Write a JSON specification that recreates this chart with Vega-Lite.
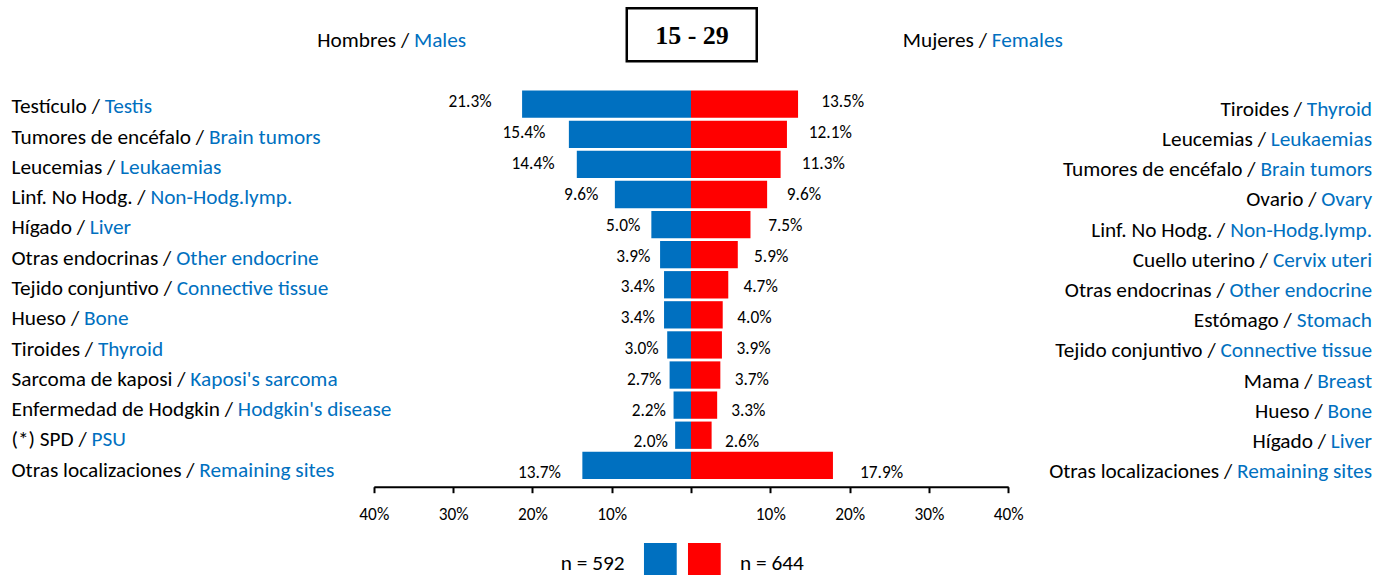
{
  "$schema": "https://vega.github.io/schema/vega-lite/v6.json",
  "width": 1391,
  "height": 575,
  "autosize": {"type": "none"},
  "padding": 0,
  "background": "white",
  "config": {"view": {"stroke": null}, "text": {"font": "Carlito, Lato, sans-serif"}},
  "data": {"values": [
    {"r": 0, "l_es": "Testículo /", "l_all": "Testículo / Testis", "m": 21.3, "m_lab": "21.3%", "r_all": "Tiroides / Thyroid", "r_en": "Thyroid", "f": 13.5, "f_lab": "13.5%"},
    {"r": 1, "l_es": "Tumores de encéfalo /", "l_all": "Tumores de encéfalo / Brain tumors", "m": 15.4, "m_lab": "15.4%", "r_all": "Leucemias / Leukaemias", "r_en": "Leukaemias", "f": 12.1, "f_lab": "12.1%"},
    {"r": 2, "l_es": "Leucemias /", "l_all": "Leucemias / Leukaemias", "m": 14.4, "m_lab": "14.4%", "r_all": "Tumores de encéfalo / Brain tumors", "r_en": "Brain tumors", "f": 11.3, "f_lab": "11.3%"},
    {"r": 3, "l_es": "Linf. No Hodg. /", "l_all": "Linf. No Hodg. / Non-Hodg.lymp.", "m": 9.6, "m_lab": "9.6%", "r_all": "Ovario / Ovary", "r_en": "Ovary", "f": 9.6, "f_lab": "9.6%"},
    {"r": 4, "l_es": "Hígado /", "l_all": "Hígado / Liver", "m": 5.0, "m_lab": "5.0%", "r_all": "Linf. No Hodg. / Non-Hodg.lymp.", "r_en": "Non-Hodg.lymp.", "f": 7.5, "f_lab": "7.5%"},
    {"r": 5, "l_es": "Otras endocrinas /", "l_all": "Otras endocrinas / Other endocrine", "m": 3.9, "m_lab": "3.9%", "r_all": "Cuello uterino / Cervix uteri", "r_en": "Cervix uteri", "f": 5.9, "f_lab": "5.9%"},
    {"r": 6, "l_es": "Tejido conjuntivo /", "l_all": "Tejido conjuntivo / Connective tissue", "m": 3.4, "m_lab": "3.4%", "r_all": "Otras endocrinas / Other endocrine", "r_en": "Other endocrine", "f": 4.7, "f_lab": "4.7%"},
    {"r": 7, "l_es": "Hueso /", "l_all": "Hueso / Bone", "m": 3.4, "m_lab": "3.4%", "r_all": "Estómago / Stomach", "r_en": "Stomach", "f": 4.0, "f_lab": "4.0%"},
    {"r": 8, "l_es": "Tiroides /", "l_all": "Tiroides / Thyroid", "m": 3.0, "m_lab": "3.0%", "r_all": "Tejido conjuntivo / Connective tissue", "r_en": "Connective tissue", "f": 3.9, "f_lab": "3.9%"},
    {"r": 9, "l_es": "Sarcoma de kaposi /", "l_all": "Sarcoma de kaposi / Kaposi's sarcoma", "m": 2.7, "m_lab": "2.7%", "r_all": "Mama / Breast", "r_en": "Breast", "f": 3.7, "f_lab": "3.7%"},
    {"r": 10, "l_es": "Enfermedad de Hodgkin /", "l_all": "Enfermedad de Hodgkin / Hodgkin's disease", "m": 2.2, "m_lab": "2.2%", "r_all": "Hueso / Bone", "r_en": "Bone", "f": 3.3, "f_lab": "3.3%"},
    {"r": 11, "l_es": "(*) SPD /", "l_all": "(*) SPD / PSU", "m": 2.0, "m_lab": "2.0%", "r_all": "Hígado / Liver", "r_en": "Liver", "f": 2.6, "f_lab": "2.6%"},
    {"r": 12, "l_es": "Otras localizaciones /", "l_all": "Otras localizaciones / Remaining sites", "m": 13.7, "m_lab": "13.7%", "r_all": "Otras localizaciones / Remaining sites", "r_en": "Remaining sites", "f": 17.9, "f_lab": "17.9%"}
  ]},
  "resolve": {"scale": {"x": "independent", "y": "independent"}, "axis": {"x": "independent", "y": "independent"}},
  "layer": [
    {
      "mark": {"type": "bar", "color": "#0070C0", "size": 27.3},
      "encoding": {
        "x": {"field": "m", "type": "quantitative", "scale": {"domain": [-40, 40], "range": [1008.2, 373.8], "nice": false, "zero": false}, "axis": null},
        "x2": {"datum": 0},
        "y": {"field": "r", "type": "quantitative", "scale": {"domain": [0, 12], "range": [99.2, 470.3], "nice": false, "zero": false}, "axis": null}
      }
    },
    {
      "mark": {"type": "bar", "color": "#FF0000", "size": 27.3},
      "encoding": {
        "x": {"field": "f", "type": "quantitative", "scale": {"domain": [-40, 40], "range": [373.8, 1008.2], "nice": false, "zero": false},
          "axis": {"values": [-40, -30, -20, -10, 0, 10, 20, 30, 40], "labelExpr": "datum.value == 0 ? '' : abs(datum.value) + '%'", "orient": "bottom", "offset": -88.3, "domainColor": "black", "domainWidth": 2, "tickColor": "black", "tickWidth": 2, "tickSize": 6, "labelFont": "Carlito, Lato, sans-serif", "labelFontSize": 17.3, "labelColor": "black", "labelPadding": 13, "grid": false, "title": null, "labelOverlap": false, "labelFlush": false, "labelBound": false}},
        "x2": {"datum": 0},
        "y": {"field": "r", "type": "quantitative", "scale": {"domain": [0, 12], "range": [99.2, 470.3], "nice": false, "zero": false}, "axis": null}
      }
    },
    {
      "mark": {"type": "text", "align": "right", "baseline": "alphabetic", "dy": 7.7, "fontSize": 17.3, "color": "black"},
      "encoding": {
        "x": {"field": "m", "type": "quantitative", "scale": {"domain": [-40, 40], "range": [1051.2, 320.8], "nice": false, "zero": false}, "axis": null},
        "y": {"field": "r", "type": "quantitative", "scale": {"domain": [0, 12], "range": [99.2, 470.3], "nice": false, "zero": false}, "axis": null},
        "text": {"field": "m_lab"}
      }
    },
    {
      "mark": {"type": "text", "align": "left", "baseline": "alphabetic", "dy": 7.7, "fontSize": 17.3, "color": "black"},
      "encoding": {
        "x": {"field": "f", "type": "quantitative", "scale": {"domain": [-40, 40], "range": [348.8, 1055.2], "nice": false, "zero": false}, "axis": null},
        "y": {"field": "r", "type": "quantitative", "scale": {"domain": [0, 12], "range": [99.2, 470.3], "nice": false, "zero": false}, "axis": null},
        "text": {"field": "f_lab"}
      }
    },
    {
      "mark": {"type": "text", "align": "left", "baseline": "alphabetic", "fontSize": 21.3, "fill": "#0070C0"},
      "encoding": {
        "x": {"datum": -85.69, "type": "quantitative", "scale": {"domain": [-40, 40], "range": [373.8, 1008.2], "nice": false, "zero": false}, "axis": null},
        "y": {"field": "r", "type": "quantitative", "scale": {"domain": [0, 12], "range": [113.3, 476.7], "nice": false, "zero": false}, "axis": null},
        "text": {"field": "l_all"}
      }
    },
    {
      "mark": {"type": "text", "align": "left", "baseline": "alphabetic", "fontSize": 21.3, "fill": "white", "stroke": "white", "strokeWidth": 3},
      "encoding": {
        "x": {"datum": -85.69, "type": "quantitative", "scale": {"domain": [-40, 40], "range": [373.8, 1008.2], "nice": false, "zero": false}, "axis": null},
        "y": {"field": "r", "type": "quantitative", "scale": {"domain": [0, 12], "range": [113.3, 476.7], "nice": false, "zero": false}, "axis": null},
        "text": {"field": "l_es"}
      }
    },
    {
      "mark": {"type": "text", "align": "left", "baseline": "alphabetic", "fontSize": 21.3, "fill": "black"},
      "encoding": {
        "x": {"datum": -85.69, "type": "quantitative", "scale": {"domain": [-40, 40], "range": [373.8, 1008.2], "nice": false, "zero": false}, "axis": null},
        "y": {"field": "r", "type": "quantitative", "scale": {"domain": [0, 12], "range": [113.3, 476.7], "nice": false, "zero": false}, "axis": null},
        "text": {"field": "l_es"}
      }
    },
    {
      "mark": {"type": "text", "align": "right", "baseline": "alphabetic", "fontSize": 21.3, "fill": "black"},
      "encoding": {
        "x": {"datum": 85.88, "type": "quantitative", "scale": {"domain": [-40, 40], "range": [373.8, 1008.2], "nice": false, "zero": false}, "axis": null},
        "y": {"field": "r", "type": "quantitative", "scale": {"domain": [0, 12], "range": [115.7, 478.3], "nice": false, "zero": false}, "axis": null},
        "text": {"field": "r_all"}
      }
    },
    {
      "mark": {"type": "text", "align": "right", "baseline": "alphabetic", "fontSize": 21.3, "fill": "white", "stroke": "white", "strokeWidth": 3},
      "encoding": {
        "x": {"datum": 85.88, "type": "quantitative", "scale": {"domain": [-40, 40], "range": [373.8, 1008.2], "nice": false, "zero": false}, "axis": null},
        "y": {"field": "r", "type": "quantitative", "scale": {"domain": [0, 12], "range": [115.7, 478.3], "nice": false, "zero": false}, "axis": null},
        "text": {"field": "r_en"}
      }
    },
    {
      "mark": {"type": "text", "align": "right", "baseline": "alphabetic", "fontSize": 21.3, "fill": "#0070C0"},
      "encoding": {
        "x": {"datum": 85.88, "type": "quantitative", "scale": {"domain": [-40, 40], "range": [373.8, 1008.2], "nice": false, "zero": false}, "axis": null},
        "y": {"field": "r", "type": "quantitative", "scale": {"domain": [0, 12], "range": [115.7, 478.3], "nice": false, "zero": false}, "axis": null},
        "text": {"field": "r_en"}
      }
    },
    {
      "data": {"values": [
        {"full": "Hombres / Males", "es": "Hombres /", "pos": -47.12},
        {"full": "Mujeres / Females", "es": "Mujeres /", "pos": 26.7}
      ]},
      "layer": [
        {
          "mark": {"type": "text", "align": "left", "baseline": "alphabetic", "fontSize": 21.3, "fill": "#0070C0"},
          "encoding": {
            "x": {"field": "pos", "type": "quantitative", "scale": {"domain": [-40, 40], "range": [373.8, 1008.2], "nice": false, "zero": false}, "axis": null},
            "y": {"datum": -1.697, "type": "quantitative", "scale": {"domain": [0, 12], "range": [99.2, 470.3], "nice": false, "zero": false}, "axis": null},
            "text": {"field": "full"}
          }
        },
        {
          "mark": {"type": "text", "align": "left", "baseline": "alphabetic", "fontSize": 21.3, "fill": "white", "stroke": "white", "strokeWidth": 3},
          "encoding": {
            "x": {"field": "pos", "type": "quantitative", "scale": {"domain": [-40, 40], "range": [373.8, 1008.2], "nice": false, "zero": false}, "axis": null},
            "y": {"datum": -1.697, "type": "quantitative", "scale": {"domain": [0, 12], "range": [99.2, 470.3], "nice": false, "zero": false}, "axis": null},
            "text": {"field": "es"}
          }
        },
        {
          "mark": {"type": "text", "align": "left", "baseline": "alphabetic", "fontSize": 21.3, "fill": "black"},
          "encoding": {
            "x": {"field": "pos", "type": "quantitative", "scale": {"domain": [-40, 40], "range": [373.8, 1008.2], "nice": false, "zero": false}, "axis": null},
            "y": {"datum": -1.697, "type": "quantitative", "scale": {"domain": [0, 12], "range": [99.2, 470.3], "nice": false, "zero": false}, "axis": null},
            "text": {"field": "es"}
          }
        }
      ]
    },
    {
      "data": {"values": [{"label": "15 - 29"}]},
      "layer": [
        {
          "mark": {"type": "rect", "fill": "white", "stroke": "black", "strokeWidth": 2.5},
          "encoding": {
            "x": {"datum": -8.1, "type": "quantitative", "scale": {"domain": [-40, 40], "range": [373.8, 1008.2], "nice": false, "zero": false}, "axis": null},
            "x2": {"datum": 8.29},
            "y": {"datum": -2.941, "type": "quantitative", "scale": {"domain": [0, 12], "range": [99.2, 470.3], "nice": false, "zero": false}, "axis": null},
            "y2": {"datum": -1.227}
          }
        },
        {
          "mark": {"type": "text", "align": "center", "baseline": "alphabetic", "font": "Liberation Serif", "fontWeight": "bold", "fontSize": 26, "color": "black"},
          "encoding": {
            "x": {"datum": 0.126, "type": "quantitative", "scale": {"domain": [-40, 40], "range": [373.8, 1008.2], "nice": false, "zero": false}, "axis": null},
            "y": {"datum": -1.775, "type": "quantitative", "scale": {"domain": [0, 12], "range": [99.2, 470.3], "nice": false, "zero": false}, "axis": null},
            "text": {"field": "label"}
          }
        }
      ]
    },
    {
      "data": {"values": [
        {"sex": "Males", "n": "n = 592", "sq0": -5.93, "sq1": -1.8, "tx": -16.43},
        {"sex": "Females", "n": "n = 644", "sq0": -0.38, "sq1": 3.75, "tx": 6.18}
      ]},
      "layer": [
        {
          "mark": {"type": "rect"},
          "encoding": {
            "x": {"field": "sq0", "type": "quantitative", "scale": {"domain": [-40, 40], "range": [373.8, 1008.2], "nice": false, "zero": false}, "axis": null},
            "x2": {"field": "sq1"},
            "y": {"datum": 14.348, "type": "quantitative", "scale": {"domain": [0, 12], "range": [99.2, 470.3], "nice": false, "zero": false}, "axis": null},
            "y2": {"datum": 15.5},
            "color": {"field": "sex", "type": "nominal", "scale": {"domain": ["Males", "Females"], "range": ["#0070C0", "#FF0000"]}, "legend": null}
          }
        },
        {
          "mark": {"type": "text", "align": "left", "baseline": "alphabetic", "fontSize": 21.3, "color": "black"},
          "encoding": {
            "x": {"field": "tx", "type": "quantitative", "scale": {"domain": [-40, 40], "range": [373.8, 1008.2], "nice": false, "zero": false}, "axis": null},
            "y": {"datum": 15.22, "type": "quantitative", "scale": {"domain": [0, 12], "range": [99.2, 470.3], "nice": false, "zero": false}, "axis": null},
            "text": {"field": "n"}
          }
        }
      ]
    }
  ]
}
